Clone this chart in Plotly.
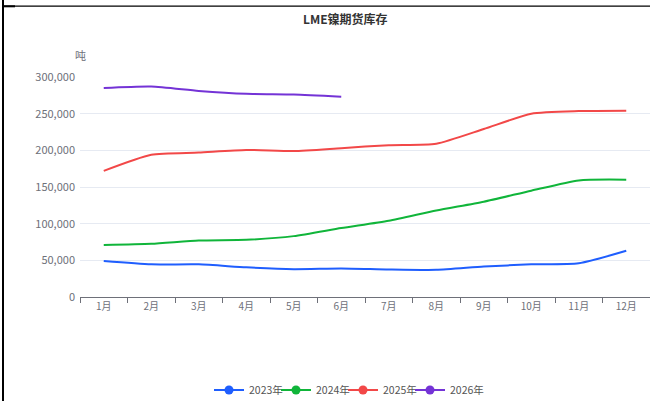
import plotly.graph_objects as go

months = ["1月", "2月", "3月", "4月", "5月", "6月", "7月", "8月", "9月", "10月", "11月", "12月"]
series_names = ["2023年", "2024年", "2025年", "2026年"]
v2023 = [49000, 44500, 44500, 40500, 38000, 39000, 37500, 37000, 41500, 44500, 46000, 63000]
v2024 = [71000, 72500, 77000, 78000, 83000, 94000, 104000, 118000, 130000, 145000, 159000, 160000]
v2025 = [172000, 194000, 197000, 200500, 199000, 203000, 207000, 209000, 229000, 250000, 253500, 254000]
v2026 = [285000, 287000, 281000, 277000, 276000, 273000]
colors = ["#1f5efe", "#10b53a", "#f24848", "#7433d6"]
unit = "吨"
title = "LME镍期货库存"

W, H = 650, 401
L, R, T, B = 80, 650, 77, 297  # plot area pixels


def px_x(p):
    return (p - L) / (R - L)


def px_y(p):
    return (B - p) / (B - T)


FONT = "Noto Sans CJK SC"
fig = go.Figure()
all_vals = [v2023, v2024, v2025, v2026]
for name, vals, c in zip(series_names, all_vals, colors):
    fig.add_trace(go.Scatter(
        x=months[:len(vals)], y=vals, mode="lines", name=name,
        line=dict(color=c, width=2, shape="spline", smoothing=0.6),
        showlegend=False, hoverinfo="skip"))
for name, c in zip(series_names, colors):
    fig.add_trace(go.Scatter(
        x=[None], y=[None], mode="lines+markers", name=name,
        line=dict(color=c, width=2), marker=dict(color=c, size=9),
        showlegend=True))
# invisible spacer entry so the last legend label is not clipped
fig.add_trace(go.Scatter(
    x=[None], y=[None], mode="lines", name=" ",
    line=dict(color="rgba(0,0,0,0)", width=0), showlegend=True))

fig.update_layout(
    width=W, height=H,
    margin=dict(l=L, r=W - R, t=T, b=H - B, pad=0, autoexpand=False),
    paper_bgcolor="white", plot_bgcolor="white",
    font=dict(family=FONT, color="#6e7079", size=11),
    showlegend=True,
    legend=dict(orientation="h", x=px_x(209), xanchor="left",
                y=px_y(390), yanchor="middle",
                font=dict(size=10.5, color="#555"),
                itemwidth=30, entrywidth=22, traceorder="normal"),
    xaxis=dict(type="category", categoryorder="array", categoryarray=months,
               range=[-0.5, 11.5], showgrid=False, showline=True,
               linecolor="#6e7079", linewidth=1, ticks="outside",
               tickson="boundaries", ticklen=5, tickcolor="#6e7079",
               tickfont=dict(size=10, color="#6e7079"), zeroline=False),
    yaxis=dict(range=[0, 300000], dtick=50000, tickformat=",",
               showgrid=True, gridcolor="#e6eaf2", gridwidth=1,
               zeroline=False, showline=False, ticks="",
               tickfont=dict(size=11, color="#6e7079"), ticklabelstandoff=4),
    annotations=[
        dict(text="<b>" + title + "</b>", xref="paper", yref="paper",
             x=px_x(345), y=px_y(18), xanchor="center", yanchor="middle",
             showarrow=False, font=dict(size=12, color="#333")),
        dict(text=unit, xref="paper", yref="paper", x=px_x(80), y=px_y(55),
             xanchor="center", yanchor="middle", showarrow=False,
             font=dict(size=11, color="#6e7079")),
    ],
    shapes=[
        dict(type="line", xref="paper", yref="paper", x0=px_x(3), x1=px_x(3),
             y0=px_y(0), y1=px_y(401), line=dict(color="black", width=2)),
        dict(type="line", xref="paper", yref="paper", x0=px_x(3), x1=px_x(650),
             y0=px_y(6.2), y1=px_y(6.2), line=dict(color="black", width=1.3)),
        dict(type="line", xref="paper", yref="paper", x0=px_x(3), x1=px_x(15),
             y0=px_y(6.3), y1=px_y(6.3), line=dict(color="black", width=2)),
    ],
)

fig.write_html("out.html", config={"displayModeBar": False},
               post_script="document.body.style.margin='0';")
